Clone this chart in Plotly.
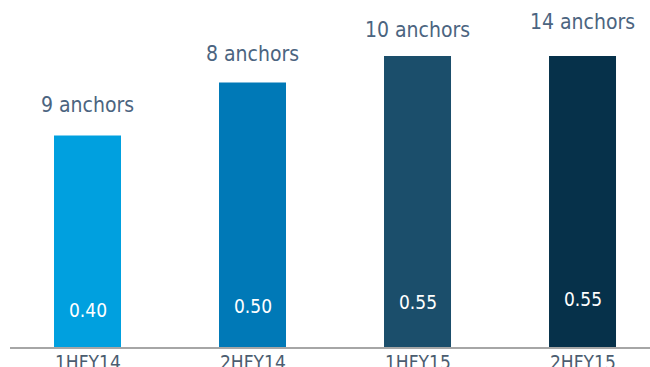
import plotly.graph_objects as go

categories = ["1HFY14", "2HFY14", "1HFY15", "2HFY15"]
values = [0.40, 0.50, 0.55, 0.55]
value_labels = ["0.40", "0.50", "0.55", "0.55"]
anchor_labels = ["9 anchors", "8 anchors", "10 anchors", "14 anchors"]

colors = ["#00A0DF", "#0079B7", "#1B4E6B", "#06314A"]
anchor_yshift = [30, 29, 26, 34]
value_yshift = [37, 41, 45, 48]

narrow = "DejaVu Sans Condensed, Liberation Sans Narrow, sans-serif"

fig = go.Figure()
fig.add_trace(go.Bar(
    x=categories, y=values, marker=dict(color=colors, line=dict(width=0)),
    width=0.406, hoverinfo="skip",
))

for i, (c, v) in enumerate(zip(categories, values)):
    fig.add_annotation(x=c, y=v, text=anchor_labels[i], showarrow=False,
                       yshift=anchor_yshift[i], yanchor="middle",
                       font=dict(family=narrow, size=21, color="#4B6480"))
    fig.add_annotation(x=c, y=0, text=value_labels[i], showarrow=False,
                       yshift=value_yshift[i], yanchor="middle",
                       font=dict(family=narrow, size=19, color="#FFFFFF"))
    # category label under the axis line
    fig.add_annotation(x=c, y=0, text=c, showarrow=False,
                       yshift=-2, yanchor="top",
                       font=dict(family=narrow, size=19, color="#4B5D70"))

fig.update_layout(
    width=650, height=367,
    margin=dict(l=10, r=0, t=0, b=20, autoexpand=False),
    paper_bgcolor="white", plot_bgcolor="white",
    showlegend=False,
    xaxis=dict(range=[-0.4697, 3.409], showgrid=False, zeroline=False,
               automargin=False, showticklabels=False,
               showline=True, linecolor="#A6A6A6", linewidth=2, ticks=""),
    yaxis=dict(range=[0, 0.656], visible=False, automargin=False),
)

fig.write_html("out.html")
